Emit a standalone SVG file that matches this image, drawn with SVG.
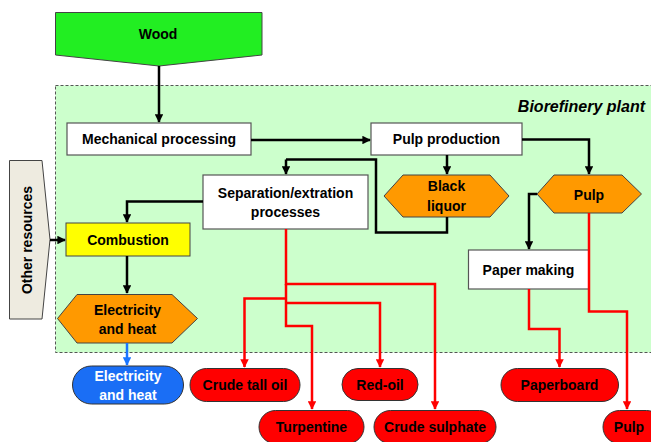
<svg xmlns="http://www.w3.org/2000/svg" width="651" height="442" viewBox="0 0 651 442">
<defs>
<marker id="ab" viewBox="0 0 10 10" refX="9" refY="5" markerWidth="3.4" markerHeight="3.4" orient="auto" markerUnits="strokeWidth"><path d="M0,0 L10,5 L0,10 z" fill="#000"/></marker>
<marker id="ar" viewBox="0 0 10 10" refX="9" refY="5" markerWidth="3.4" markerHeight="3.4" orient="auto" markerUnits="strokeWidth"><path d="M0,0 L10,5 L0,10 z" fill="#FF0000"/></marker>
<marker id="abl" viewBox="0 0 10 10" refX="9" refY="5" markerWidth="3.4" markerHeight="3.4" orient="auto" markerUnits="strokeWidth"><path d="M0,0 L10,5 L0,10 z" fill="#1A75FF"/></marker>
</defs>
<style>
text{font-family:"Liberation Sans",Arial,sans-serif;font-weight:bold;font-size:14px;text-anchor:middle;dominant-baseline:central;fill:#000}
.box{fill:#fff;stroke:#555;stroke-width:1.2}
.hex{fill:#FF9900;stroke:#444;stroke-width:1}
.pill{fill:#FF0000;stroke:#333;stroke-width:1}
.bl{fill:none;stroke:#000;stroke-width:2.5;marker-end:url(#ab)}
.bln{fill:none;stroke:#000;stroke-width:2.5}
.rd{fill:none;stroke:#FF0000;stroke-width:2.5;marker-end:url(#ar)}
</style>
<rect id="plant" x="55.5" y="85.5" width="600" height="267" fill="#CCFFCC" stroke="#555" stroke-width="1" stroke-dasharray="3,2"/>
<text x="645" y="106" style="font-size:16px;font-style:italic;text-anchor:end">Biorefinery plant</text>

<g id="wood"><path d="M55.5,12.5 H262 V55 L159,66 L55.5,55 Z" fill="#22EE22" stroke="#444" stroke-width="1"/><text x="158" y="34">Wood</text></g>
<g id="other"><path d="M9.5,160.5 H42 L50,239.5 L42,319 H9.5 Z" fill="#EEEBE0" stroke="#444" stroke-width="1"/><text transform="translate(27,240) rotate(-90)">Other resources</text></g>
<g id="mech"><rect class="box" x="67" y="123" width="184" height="32"/><text x="159" y="139">Mechanical processing</text></g>
<g id="pulpprod"><rect class="box" x="371" y="123" width="151" height="32"/><text x="446.5" y="139">Pulp production</text></g>
<g id="black"><path class="hex" d="M384,196 L403,175 H490 L509,196 L490,217 H403 Z"/><text x="446.5" y="186">Black</text><text x="446.5" y="206">liquor</text></g>
<g id="pulphex"><path class="hex" d="M537,194 L554,175 H622 L641.5,194 L622,213 H554 Z"/><text x="589" y="195">Pulp</text></g>
<g id="sep"><rect class="box" x="203" y="175" width="165" height="54"/><text x="285.5" y="193">Separation/extration</text><text x="285.5" y="212">processes</text></g>
<g id="comb"><rect x="66" y="223" width="124" height="33" fill="#FFFF00" stroke="#444" stroke-width="1"/><text x="128" y="240">Combustion</text></g>
<g id="elec"><path class="hex" d="M57.5,318.5 L77,294.5 H172 L197.5,318.5 L172,343 H77 Z"/><text x="127.5" y="310">Electricity</text><text x="127.5" y="329">and heat</text></g>
<g id="paper"><rect class="box" x="468.5" y="250" width="120.5" height="39"/><text x="528.5" y="270">Paper making</text></g>
<g id="elecout"><rect x="72.5" y="366" width="111" height="38" rx="19" fill="#1A6EF5" stroke="#333" stroke-width="1"/><text x="128" y="376" style="fill:#fff">Electricity</text><text x="128" y="395" style="fill:#fff">and heat</text></g>
<g id="talloil"><rect class="pill" x="190" y="368.5" width="110" height="33" rx="16.5"/><text x="245" y="385">Crude tall oil</text></g>
<g id="turp"><rect class="pill" x="259" y="410.5" width="105" height="33" rx="16.5"/><text x="311.5" y="427">Turpentine</text></g>
<g id="redoil"><rect class="pill" x="342" y="368.5" width="76" height="32" rx="16"/><text x="380" y="385">Red-oil</text></g>
<g id="sulph"><rect class="pill" x="374" y="410.5" width="122" height="33" rx="16.5"/><text x="435" y="427">Crude sulphate</text></g>
<g id="board"><rect class="pill" x="501" y="368.5" width="117.5" height="33" rx="16.5"/><text x="559.5" y="385">Paperboard</text></g>
<g id="pulpout"><rect class="pill" x="603" y="410.5" width="60" height="33" rx="16.5"/><text x="629" y="427">Pulp</text></g>

<g id="connectors">
<path class="bl" d="M159,66 V122"/>
<path class="bl" d="M251,140 H370"/>
<path class="bl" d="M447,155 V174"/>
<path class="bln" d="M447,217 V232.5 H376 V159.5 H286"/>
<path class="bl" d="M286,159.5 V174"/>
<path class="bl" d="M522,139.5 H589 V174"/>
<path class="bl" d="M537,194 H529 V249"/>
<path class="bl" d="M203,201.5 H127 V222"/>
<path class="bl" d="M50,240 H65"/>
<path class="bl" d="M127,256 V293"/>
<path d="M127,343 V365" fill="none" stroke="#1A75FF" stroke-width="2.5" marker-end="url(#abl)"/>
<path class="rd" d="M286,229 V284 H435 V409"/>
<path class="rd" d="M286,298.5 H244.5 V367"/>
<path class="rd" d="M286,303 H380 V367"/>
<path class="rd" d="M286,284 V326 H312 V409"/>
<path class="rd" d="M589,213 V311.5 H627 V409"/>
<path class="rd" d="M529,289 V329 H559.5 V367"/>
</g>
</svg>
